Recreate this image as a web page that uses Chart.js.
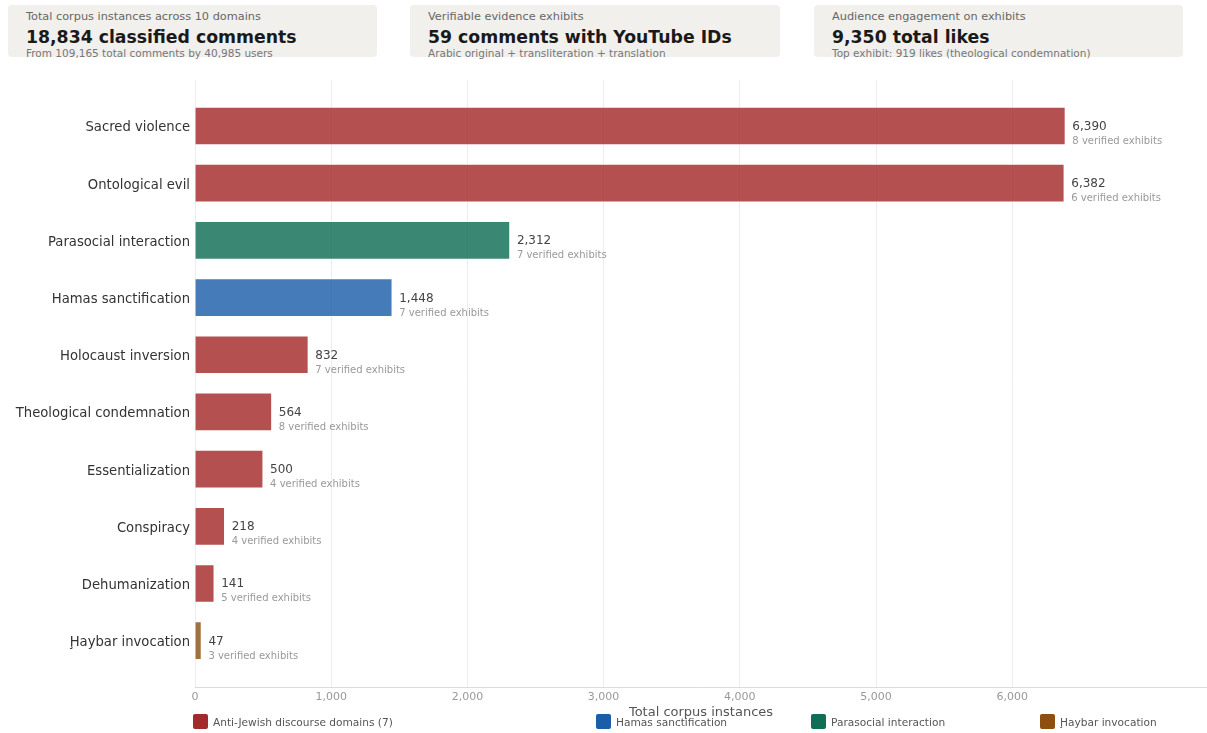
<!DOCTYPE html>
<html>
<head>
<meta charset="utf-8">
<script src="https://cdn.jsdelivr.net/npm/chart.js@4/dist/chart.umd.min.js"></script>
<style>
  html, body { margin: 0; padding: 0; background: #fff; font-family: "DejaVu Sans", sans-serif; }
  body { width: 1207px; height: 733px; position: relative; overflow: hidden; }
  .card { position: absolute; top: 5px; height: 52px; background: #f1f0ed; border-radius: 4px; box-sizing: border-box; }
  .card .lbl { position: absolute; left: 18px; top: 5px; font-size: 11.3px; color: #666; white-space: nowrap; }
  .card .big { position: absolute; left: 18px; top: 22px; font-size: 17.3px; font-weight: bold; color: #1a1a1a; white-space: nowrap; }
  .card .sub { position: absolute; left: 18px; top: 42px; font-size: 10.5px; color: #777; white-space: nowrap; }
  #wrap { position: absolute; left: 0; top: 62px; width: 1207px; height: 671px; }
  .leg { position: absolute; top: 714px; height: 15px; display: flex; align-items: center; font-size: 10.6px; color: #555; white-space: nowrap; }
  .leg i { display: inline-block; width: 15px; height: 15px; border-radius: 2px; margin-right: 5px; }
</style>
</head>
<body>
<div class="card" style="left:8px;width:369px">
  <div class="lbl">Total corpus instances across 10 domains</div>
  <div class="big">18,834 classified comments</div>
  <div class="sub">From 109,165 total comments by 40,985 users</div>
</div>
<div class="card" style="left:410px;width:370px">
  <div class="lbl">Verifiable evidence exhibits</div>
  <div class="big">59 comments with YouTube IDs</div>
  <div class="sub">Arabic original + transliteration + translation</div>
</div>
<div class="card" style="left:814px;width:369px">
  <div class="lbl">Audience engagement on exhibits</div>
  <div class="big">9,350 total likes</div>
  <div class="sub">Top exhibit: 919 likes (theological condemnation)</div>
</div>
<div id="wrap"><canvas id="c"></canvas></div>
<div id="legend"></div>
<script>
// Discourse domains, ordered by corpus size
const categories = [
  "Sacred violence", "Ontological evil", "Parasocial interaction", "Hamas sanctification",
  "Holocaust inversion", "Theological condemnation", "Essentialization", "Conspiracy",
  "Dehumanization", "Ḩaybar invocation"
];
const instances = [6390, 6382, 2312, 1448, 832, 564, 500, 218, 141, 47];
const exhibits = [8, 6, 7, 7, 7, 8, 4, 4, 5, 3];
const groups = ["anti", "anti", "para", "hamas", "anti", "anti", "anti", "anti", "anti", "haybar"];

const groupNames = ["Anti-Jewish discourse domains (7)", "Hamas sanctification", "Parasocial interaction", "Ḩaybar invocation"];
const groupKeys = ["anti", "hamas", "para", "haybar"];
const groupColors = { anti: "#a32a2a", hamas: "#1b5ea8", para: "#0f6e56", haybar: "#8d5010" };
const legendX = [193, 596, 811, 1040];

function withAlpha(hex, a) {
  const n = parseInt(hex.slice(1), 16);
  return `rgba(${(n >> 16) & 255},${(n >> 8) & 255},${n & 255},${a})`;
}

// Legend row
const legendEl = document.getElementById("legend");
groupKeys.forEach((k, i) => {
  const d = document.createElement("div");
  d.className = "leg";
  d.style.left = legendX[i] + "px";
  d.innerHTML = `<i style="background:${groupColors[k]}"></i>${groupNames[i]}`;
  legendEl.appendChild(d);
});

const FONT = "DejaVu Sans";

// Value + exhibit-count annotations to the right of each bar
const barLabels = {
  id: "barLabels",
  afterDatasetsDraw(chart) {
    const ctx = chart.ctx;
    const meta = chart.getDatasetMeta(0);
    ctx.save();
    ctx.textAlign = "left";
    ctx.textBaseline = "alphabetic";
    meta.data.forEach((bar, i) => {
      const x = bar.x + 7;
      ctx.font = `12px "${FONT}"`;
      ctx.fillStyle = "#444";
      ctx.fillText(instances[i].toLocaleString("en-US"), x, bar.y + 4);
      ctx.font = `10px "${FONT}"`;
      ctx.fillStyle = "#999";
      ctx.fillText(exhibits[i] + " verified exhibits", x, bar.y + 18);
    });
    ctx.restore();
  }
};

new Chart(document.getElementById("c"), {
  type: "bar",
  data: {
    datasets: [{
      data: instances.map((v, i) => ({ x: v, y: i })),
      backgroundColor: groups.map(g => withAlpha(groupColors[g], 0.82)),
      borderColor: "rgba(255,255,255,0.55)",
      borderWidth: 1,
      barThickness: 38
    }]
  },
  options: {
    indexAxis: "y",
    responsive: true,
    maintainAspectRatio: false,
    animation: false,
    layout: { padding: { top: 18, right: 0, bottom: 0, left: 0 } },
    plugins: { legend: { display: false }, tooltip: { enabled: false } },
    scales: {
      x: {
        type: "linear",
        min: 0,
        max: 7430,
        afterBuildTicks: (axis) => {
          axis.ticks = [0, 1000, 2000, 3000, 4000, 5000, 6000].map(v => ({ value: v }));
        },
        afterFit: (axis) => { axis.height = 46; },
        ticks: {
          font: { family: FONT, size: 11 },
          color: "#999",
          padding: 4,
          callback: (v) => Number(v).toLocaleString("en-US")
        },
        grid: { color: "#ececec", lineWidth: 1, drawTicks: false },
        border: { display: true, color: "#dcdcdc" },
        title: {
          display: true,
          text: "Total corpus instances",
          font: { family: FONT, size: 13 },
          color: "#555",
          padding: { top: 0, bottom: 13 }
        }
      },
      y: {
        type: "linear",
        reverse: true,
        offset: false,
        min: -0.804,
        max: 9.81,
        afterBuildTicks: (axis) => {
          axis.ticks = categories.map((_, i) => ({ value: i }));
        },
        afterFit: (axis) => { axis.width = 195; },
        ticks: {
          font: { family: FONT, size: 13.2 },
          color: "#333",
          padding: 5,
          labelOffset: 2,
          callback: (v) => categories[v] ?? ""
        },
        grid: { display: false, drawTicks: false },
        border: { display: false }
      }
    }
  },
  plugins: [barLabels]
});
</script>
</body>
</html>
